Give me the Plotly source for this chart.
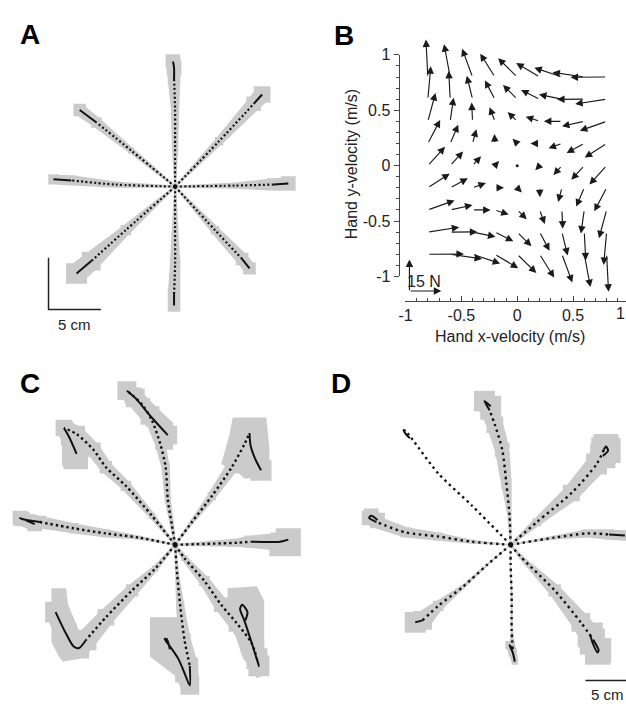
import numpy as np
import plotly.graph_objects as go

# ====================== DATA ======================
# Panel A: null-field reaches. Mean hand paths (mm from start), spread (mm),
# index where sampling becomes dense (slow end of the movement)
A_X = [
    [0, 0, 0, -1, -1, -2],
    [0, 42, 75, 83],
    [0, 57, 94, 108],
    [0, 38, 64, 71],
    [0, 0, 0, -1, -1],
    [0, -47, -80, -94],
    [0, -57, -99, -116],
    [0, -42, -75, -91],
]
A_Y = [
    [0, 38, 75, 104, 115, 121],
    [0, 44, 80, 89],
    [0, 1, 2, 3],
    [0, -42, -70, -79],
    [0, -38, -75, -104, -115],
    [0, -42, -72, -84],
    [0, 2, 6, 7],
    [0, 35, 62, 74],
]
A_SD = [
    [1, 3, 4, 6, 7, 7],
    [1, 4, 7, 8],
    [1, 3, 6, 7],
    [1, 4, 6, 6],
    [1, 3, 5, 6, 6],
    [1, 5, 9, 10],
    [1, 3, 5, 5],
    [1, 3, 5, 6],
]
A_SLOW = [3, 2, 2, 2, 3, 2, 2, 2]

# Panel B: velocity-dependent force field (grid of hand velocities, m/s; forces, N)
B_VX = [-0.8, -0.6, -0.4, -0.2, 0.0, 0.2, 0.4, 0.6, 0.8]
B_VY = [0.8, 0.6, 0.4, 0.2, 0.0, -0.2, -0.4, -0.6, -0.8]
B_FX = [
    [-0.9, -2.9, -4.9, -6.9, -9.0, -11.0, -13.0, -15.0, -17.0],
    [1.4, -0.7, -2.7, -4.7, -6.7, -8.7, -10.8, -12.8, -14.8],
    [3.6, 1.6, -0.4, -2.5, -4.5, -6.5, -8.5, -10.5, -12.6],
    [5.8, 3.8, 1.8, -0.2, -2.2, -4.3, -6.3, -8.3, -10.3],
    [8.1, 6.1, 4.0, 2.0, 0.0, -2.0, -4.0, -6.1, -8.1],
    [10.3, 8.3, 6.3, 4.3, 2.2, 0.2, -1.8, -3.8, -5.8],
    [12.6, 10.5, 8.5, 6.5, 4.5, 2.5, 0.4, -1.6, -3.6],
    [14.8, 12.8, 10.8, 8.7, 6.7, 4.7, 2.7, 0.7, -1.4],
    [17.0, 15.0, 13.0, 11.0, 9.0, 6.9, 4.9, 2.9, 0.9],
]
B_FY = [
    [17.8, 15.6, 13.4, 11.1, 8.9, 6.6, 4.4, 2.2, -0.1],
    [15.6, 13.4, 11.1, 8.9, 6.7, 4.4, 2.2, -0.1, -2.3],
    [13.4, 11.2, 8.9, 6.7, 4.4, 2.2, 0.0, -2.3, -4.5],
    [11.2, 8.9, 6.7, 4.5, 2.2, 0.0, -2.3, -4.5, -6.7],
    [9.0, 6.7, 4.5, 2.2, 0.0, -2.2, -4.5, -6.7, -9.0],
    [6.7, 4.5, 2.3, 0.0, -2.2, -4.5, -6.7, -8.9, -11.2],
    [4.5, 2.3, 0.0, -2.2, -4.4, -6.7, -8.9, -11.2, -13.4],
    [2.3, 0.1, -2.2, -4.4, -6.7, -8.9, -11.1, -13.4, -15.6],
    [0.1, -2.2, -4.4, -6.6, -8.9, -11.1, -13.4, -15.6, -17.8],
]
B_SCALE_N = 15
B_TICKS = [-1, -0.5, 0, 0.5, 1]
B_TICKTEXT = ["-1", "-0.5", "0", "0.5", "1"]

# Panel C: early exposure to the field
C_X = [
    [0, -3, -7, -9, -14, -22, -31, -40, -46, -38, -24, -7],
    [0, -22, -47, -66, -78, -94, -106, -101, -94],
    [0, 16, 35, 54, 66, 71, 72, 76, 82],
    [0, 59, 72, 100, 108],
    [0, 9, 28, 44, 59, 73, 78, 80, 75, 69, 66, 62, 64, 69, 67],
    [0, 2, 5, 9, 14, 14, 9, 3, -5, -10, -8, -5],
    [0, -19, -41, -66, -85, -92, -97, -104, -114],
    [0, -35, -66, -97, -129, -146, -148, -134],
]
C_Y = [
    [0, 19, 44, 75, 97, 120, 135, 144, 149, 142, 125, 106],
    [0, 28, 57, 75, 92, 107, 113, 104, 88],
    [0, 22, 47, 75, 97, 108, 96, 84, 72],
    [0, 2, 3, 3, 5],
    [0, -13, -35, -58, -76, -95, -110, -117, -101, -82, -73, -62, -58, -65, -73],
    [0, -29, -60, -92, -117, -136, -124, -110, -98, -91, -91, -101],
    [0, -23, -44, -70, -92, -100, -98, -86, -65],
    [0, 7, 11, 16, 22, 25, 26, 20],
]
C_SD = [
    [1, 2, 3, 4, 5, 6, 7, 8, 9, 9, 9, 9],
    [1, 3, 5, 6, 7, 8, 8, 8, 8],
    [1, 2, 4, 6, 8, 10, 10, 10, 10],
    [1, 4, 6, 9, 10],
    [1, 3, 5, 7, 8, 9, 10, 10, 10, 10, 10, 10, 10, 10, 10],
    [1, 2, 4, 6, 8, 9, 9, 9, 9, 9, 9, 9],
    [1, 3, 6, 8, 10, 10, 10, 10, 10],
    [1, 2, 4, 5, 6, 7, 7, 7],
]
C_SLOW = [8, 6, 5, 2, 6, 4, 4, 4]
# spread envelope around the end corrections (mm)
C_END_X = [
    [-52, -41, -2, -2, -17, -21, -28, -52],
    [-108, -99, -83, -83, -106, -108],
    [55, 87, 90, 90, 66, 61, 44, 52],
    [96, 120, 120, 90, 90, 96],
    [78, 64, 57, 50, 50, 78, 85, 85],
    [-24, 2, 11, 21, 21, 11, 3, -21, -24],
    [-118, -104, -102, -92, -83, -75, -90, -107, -111, -118],
]
C_END_Y = [
    [154, 156, 118, 92, 92, 106, 120, 146],
    [118, 120, 102, 73, 73, 78],
    [123, 123, 94, 64, 64, 69, 78, 107],
    [16, 16, -11, -11, 9, 9],
    [-129, -108, -86, -60, -42, -40, -54, -126],
    [-70, -70, -86, -114, -141, -143, -129, -110, -108],
    [-42, -42, -58, -82, -90, -97, -110, -113, -108, -94],
]

# Panel D: late exposure (adapted)
D_X = [
    [0, -1, -4, -8, -15, -20, -25, -19],
    [0, -37, -69, -93, -100, -102, -100, -96],
    [0, 25, 58, 82, 89, 91, 93, 88],
    [0, 42, 73, 94, 109],
    [0, 10, 42, 67, 79, 84, 83, 78, 76],
    [0, 0, 1, 1, 2, -1, 2, 4],
    [0, -22, -46, -69, -84, -91],
    [0, -37, -69, -100, -128, -135, -133, -127],
]
D_Y = [
    [0, 28, 59, 92, 116, 130, 139, 134],
    [0, 38, 69, 101, 110, 111, 107, 103],
    [0, 22, 50, 78, 92, 95, 91, 86],
    [0, 7, 11, 10, 9],
    [0, -12, -44, -75, -92, -102, -104, -94, -87],
    [0, -19, -50, -82, -101, -97, -104, -113],
    [0, -19, -41, -59, -73, -75],
    [0, 3, 8, 12, 22, 26, 28, 24],
]
D_SD = [
    [1, 2, 5, 7, 8, 9, 10, 10],
    [0, 0, 0, 0, 0, 0, 0, 0],
    [1, 4, 8, 10, 12, 12, 12, 12],
    [0.5, 2, 4, 5, 5],
    [1, 2, 6, 9, 11, 12, 12, 12, 12],
    [0, 0.5, 1, 1, 3, 4, 4, 3],
    [0.5, 1, 2, 5, 9, 10],
    [0.5, 2, 4, 5, 6, 7, 7, 7],
]
D_SLOW = [5, 4, 4, 3, 4, 4, 4, 4]

SCALEBAR_MM = 50

# ====================== LAYOUT (pixels) ======================
W, H = 626, 709
PX_PER_MM = 1.06
FONT = "Liberation Sans, Arial, sans-serif"
GRAY = "#cbcbcb"
INK = "#111111"
TXT = "#222222"

PANELS = {
    "A": dict(ax="", x0=0, x1=320, y0=0, y1=340, cx=170, cy=183),
    "C": dict(ax="3", x0=0, x1=320, y0=360, y1=709, cx=170, cy=550),
    "D": dict(ax="4", x0=330, x1=626, y0=360, y1=709, cx=509.3, cy=550),
}
DOT_STYLE = {"A": ("2px,2.4px", 2.2), "C": ("2.4px,3px", 2.4), "D": ("2.4px,3.6px", 2.4)}

# B axes in pixels
B_X0PX, B_XUNIT = 403, 113.0    # x=-1 at px 403, px per m/s
B_YTOP, B_YBOT = 48, 275        # y=1, y=-1
B_XAXIS_Y = 300
B_YAXIS_X = 396
ARROW_K = 0.019                 # m/s of plot per N


def px_paper(px, py):
    return px / W, 1 - py / H


def band_polys(xs, ys, ws):
    px, py = [], []
    n = len(xs)
    for i in range(n - 1):
        dx, dy = xs[i + 1] - xs[i], ys[i + 1] - ys[i]
        L = float(np.hypot(dx, dy)) or 1.0
        nx, ny = -dy / L, dx / L
        pts = [
            (xs[i] - nx * ws[i], ys[i] - ny * ws[i]),
            (xs[i + 1] - nx * ws[i + 1], ys[i + 1] - ny * ws[i + 1]),
            (xs[i + 1] + nx * ws[i + 1], ys[i + 1] + ny * ws[i + 1]),
            (xs[i] + nx * ws[i], ys[i] + ny * ws[i]),
        ]
        for q in pts + [pts[0]]:
            px.append(q[0]); py.append(q[1])
        px.append(None); py.append(None)
    for i in range(n):
        w = ws[i]
        if w <= 0:
            continue
        sq = [(xs[i] - w, ys[i] - w), (xs[i] + w, ys[i] - w), (xs[i] + w, ys[i] + w),
              (xs[i] - w, ys[i] + w), (xs[i] - w, ys[i] - w)]
        for q in sq:
            px.append(q[0]); py.append(q[1])
        px.append(None); py.append(None)
    return px, py


fig = go.Figure()
layout_axes = {}

PANEL_DATA = {
    "A": (A_X, A_Y, A_SD, A_SLOW, None, None),
    "C": (C_X, C_Y, C_SD, C_SLOW, C_END_X, C_END_Y),
    "D": (D_X, D_Y, D_SD, D_SLOW, None, None),
}

for key, p in PANELS.items():
    ax = p["ax"]
    xa, ya = "x" + ax, "y" + ax
    layout_axes["xaxis" + ax] = dict(
        domain=[p["x0"] / W, p["x1"] / W],
        range=[(p["x0"] - p["cx"]) / PX_PER_MM, (p["x1"] - p["cx"]) / PX_PER_MM],
        visible=False, anchor=ya, fixedrange=True)
    layout_axes["yaxis" + ax] = dict(
        domain=[1 - p["y1"] / H, 1 - p["y0"] / H],
        range=[(p["cy"] - p["y1"]) / PX_PER_MM, (p["cy"] - p["y0"]) / PX_PER_MM],
        visible=False, anchor=xa, fixedrange=True)

    X, Y, SD, SLOW, EX, EY = PANEL_DATA[key]
    for xs, ys, ws in zip(X, Y, SD):
        bx, by = band_polys(xs, ys, ws)
        if bx:
            fig.add_trace(go.Scatter(x=bx, y=by, xaxis=xa, yaxis=ya, mode="lines",
                                     fill="toself", fillcolor=GRAY, line=dict(width=0),
                                     hoverinfo="skip", showlegend=False))
    if EX:
        bx, by = [], []
        for xs, ys in zip(EX, EY):
            bx += list(xs) + [xs[0], None]
            by += list(ys) + [ys[0], None]
        fig.add_trace(go.Scatter(x=bx, y=by, xaxis=xa, yaxis=ya, mode="lines",
                                 fill="toself", fillcolor=GRAY, line=dict(width=0),
                                 hoverinfo="skip", showlegend=False))
    dash, lw = DOT_STYLE[key]
    for xs, ys, k in zip(X, Y, SLOW):
        fig.add_trace(go.Scatter(x=xs[:k + 1], y=ys[:k + 1], xaxis=xa, yaxis=ya, mode="lines",
                                 line=dict(color=INK, width=lw, dash=dash, shape="spline", smoothing=0.8),
                                 hoverinfo="skip", showlegend=False))
        fig.add_trace(go.Scatter(x=xs[k:], y=ys[k:], xaxis=xa, yaxis=ya, mode="lines",
                                 line=dict(color=INK, width=2.0, shape="spline", smoothing=0.8),
                                 hoverinfo="skip", showlegend=False))

annotations = []

# scale bars
pA = PANELS["A"]
sx = (42 - pA["cx"]) / PX_PER_MM
sy = (pA["cy"] - 309) / PX_PER_MM
fig.add_trace(go.Scatter(x=[sx, sx, sx + SCALEBAR_MM], y=[sy + SCALEBAR_MM, sy, sy],
                         xaxis="x", yaxis="y", mode="lines", line=dict(color=TXT, width=1.5),
                         hoverinfo="skip", showlegend=False))
annotations.append(dict(x=sx + SCALEBAR_MM / 2, y=sy, xref="x", yref="y", text="5 cm",
                        xanchor="center", yanchor="middle",
                        showarrow=False, yshift=-15, font=dict(family=FONT, size=15, color=TXT)))
pD = PANELS["D"]
dx0 = (585 - pD["cx"]) / PX_PER_MM
dy0 = (pD["cy"] - 689) / PX_PER_MM
fig.add_trace(go.Scatter(x=[dx0, dx0 + SCALEBAR_MM], y=[dy0, dy0], xaxis="x4", yaxis="y4",
                         mode="lines", line=dict(color=TXT, width=1.5),
                         hoverinfo="skip", showlegend=False))
annotations.append(dict(x=dx0 + SCALEBAR_MM / 2, y=dy0, xref="x4", yref="y4", text="5 cm",
                        xanchor="center", yanchor="middle", xshift=-4,
                        showarrow=False, yshift=-14, font=dict(family=FONT, size=15, color=TXT)))

# ---------------- Panel B ----------------
xr_hi = -1 + (W - B_X0PX) / B_XUNIT
common_axis = dict(showline=True, linecolor="#444", linewidth=1, tickcolor="#444", ticklen=5,
                   tickvals=B_TICKS, ticktext=B_TICKTEXT, showgrid=False, zeroline=False,
                   tickfont=dict(family=FONT, size=16, color=TXT), fixedrange=True)
layout_axes["xaxis2"] = dict(
    domain=[B_X0PX / W, 1], range=[-1, xr_hi], anchor="free", position=1 - B_XAXIS_Y / H,
    ticks="inside",
    minor=dict(dtick=0.1, tick0=0, ticks="inside", ticklen=3, tickcolor="#444", showgrid=False),
    **common_axis)
layout_axes["yaxis2"] = dict(
    domain=[1 - B_YBOT / H, 1 - B_YTOP / H], range=[-1, 1], anchor="free", position=B_YAXIS_X / W,
    ticks="outside",
    minor=dict(dtick=0.1, tick0=0, ticks="outside", ticklen=3, tickcolor="#444", showgrid=False),
    **common_axis)

zx, zy = [], []
for i, vy in enumerate(B_VY):
    for j, vx in enumerate(B_VX):
        fx, fy = B_FX[i][j], B_FY[i][j]
        if np.hypot(fx, fy) < 0.5:
            zx.append(vx); zy.append(vy)
            continue
        annotations.append(dict(
            x=vx + fx * ARROW_K, y=vy + fy * ARROW_K, ax=vx, ay=vy,
            xref="x2", yref="y2", axref="x2", ayref="y2", text="", showarrow=True,
            arrowhead=2, arrowsize=1.3, arrowwidth=1.15, arrowcolor="#1a1a1a",
            standoff=0, startstandoff=0))
fig.add_trace(go.Scatter(x=zx, y=zy, xaxis="x2", yaxis="y2", mode="markers",
                         marker=dict(color="#1a1a1a", size=3), hoverinfo="skip",
                         showlegend=False, cliponaxis=False))

# force scale arrows (placed in page pixels below the grid)
L15_px = B_SCALE_N * ARROW_K * B_XUNIT
o_px, o_py = 407, 290
for hx, hy in [(o_px + L15_px, o_py), (o_px, o_py - L15_px)]:
    px_, py_ = px_paper(hx, hy)
    annotations.append(dict(x=px_, y=py_, xref="paper", yref="paper", axref="pixel", ayref="pixel",
                            ax=o_px - hx, ay=o_py - hy, text="", showarrow=True,
                            arrowhead=2, arrowsize=1.3, arrowwidth=1.15, arrowcolor="#1a1a1a",
                            standoff=0, startstandoff=0))
lx, ly = px_paper(o_px + L15_px / 2 - 1, o_py - 10)
annotations.append(dict(x=lx, y=ly, xref="paper", yref="paper", text=f"{B_SCALE_N} N",
                        xanchor="center", yanchor="middle", showarrow=False,
                        font=dict(family=FONT, size=16, color=TXT)))
# last x tick label sits at the page edge; keep it fully inside
ox1, oy1 = px_paper(620, 313)
annotations.append(dict(x=ox1, y=oy1, xref="paper", yref="paper", text="1", showarrow=False,
                        xanchor="center", yanchor="middle",
                        font=dict(family=FONT, size=16, color=TXT)))

tx, ty = px_paper(509, 337)
annotations.append(dict(x=tx, y=ty, xref="paper", yref="paper", xanchor="center", yanchor="middle",
                        text="Hand x-velocity (m/s)", showarrow=False,
                        font=dict(family=FONT, size=16, color=TXT)))
tx, ty = px_paper(348, 160)
annotations.append(dict(x=tx, y=ty, xref="paper", yref="paper", xanchor="center", yanchor="middle",
                        text="Hand y-velocity (m/s)", showarrow=False, textangle=-90,
                        font=dict(family=FONT, size=16, color=TXT)))

# panel letters
for txt, (lx, ly) in {"A": (23, 27), "B": (341, 28), "C": (23, 385), "D": (338, 385)}.items():
    px_, py_ = px_paper(lx, ly)
    annotations.append(dict(x=px_, y=py_, xref="paper", yref="paper", text=f"<b>{txt}</b>",
                            xanchor="center", yanchor="middle",
                            showarrow=False, font=dict(family=FONT, size=28, color="#000")))

fig.update_layout(
    width=W, height=H, margin=dict(l=0, r=0, t=0, b=0),
    paper_bgcolor="white", plot_bgcolor="rgba(0,0,0,0)",
    showlegend=False, annotations=annotations, **layout_axes)

fig.write_html("out.html")
